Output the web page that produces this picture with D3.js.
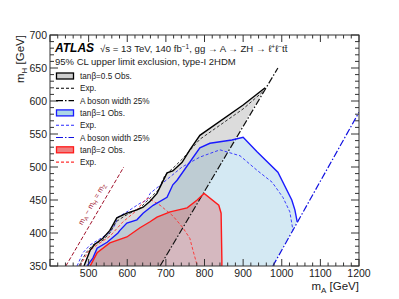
<!DOCTYPE html>
<html>
<head>
<meta charset="utf-8">
<script src="https://cdn.jsdelivr.net/npm/d3@7"></script>
<style>
  body { margin: 0; background: #fff; }
  text { font-family: "Liberation Sans", Arial, sans-serif; fill: #222; }
</style>
</head>
<body>
<div id="chart"></div>
<script>
// mA, mH pairs (GeV)
var obsHalf = [[488,350],[504,374],[516,383],[537,392],[555,404],[573,423],[599,430],[625,435],[641,439],[659,448],[677,460],[703,491],[718,494],[742,507],[762,526],[788,548],[900,594],[957,620]];
var expHalf = [[475,350],[493,370],[511,382],[537,389],[555,400],[571,417],[594,426],[633,438],[654,450],[680,465],[698,488],[718,498],[744,513],[788,542],[900,588],[951,614]];
var obsOne = [[496,350],[511,362],[522,377],[548,386],[576,400],[581,404],[599,415],[625,420],[641,430],[667,442],[703,454],[718,473],[729,480],[788,529],[814,536],[871,541],[900,545],[936,523],[990,492],[1026,450],[1034,435],[1040,417]];
var expOne = [[470,350],[485,370],[504,382],[529,391],[555,401],[568,412],[576,424],[599,432],[633,445],[651,450],[659,460],[680,470],[711,485],[742,500],[788,515],[840,526],[892,517],[936,495],[975,477],[1003,454],[1021,432],[1029,404]];
var obsTwo = [[504,350],[522,370],[555,385],[599,394],[633,408],[659,417],[677,424],[711,432],[755,438],[781,450],[799,460],[837,442],[843,430],[845,359],[845,350]];
var expTwo = [[478,350],[498,371],[522,382],[555,395],[589,417],[620,432],[646,450],[654,453],[685,442],[718,426],[744,408],[762,392],[770,374],[781,351]];
var widthHalf = [[685,350],[990,650]];
var widthOne = [[977,350],[1200,583]];
var mzLine = [[441,350],[591,500]];

var xTicks = [500, 600, 700, 800, 900, 1000, 1100, 1200];
var yTicks = [350, 400, 450, 500, 550, 600, 650, 700];

var width = 399, height = 299;
var margin = {left: 50, right: 40, top: 35, bottom: 33};

var svg = d3.select('#chart').append('svg')
    .attr('width', width)
    .attr('height', height);

var x = d3.scaleLinear().domain([400, 1200]).range([margin.left, width - margin.right]);
var y = d3.scaleLinear().domain([350, 700]).range([height - margin.bottom, margin.top]);

svg.append('clipPath').attr('id', 'plot')
    .append('rect')
    .attr('x', x(400)).attr('y', y(700))
    .attr('width', x(1200) - x(400)).attr('height', y(350) - y(700));

var line = d3.line().x(function (d) { return x(d[0]); }).y(function (d) { return y(d[1]); });

var g = svg.append('g').attr('clip-path', 'url(#plot)');

// filled exclusion areas (contour closed along the width line)
var areaOne = obsOne.concat(widthOne.slice().reverse().filter(function (d) { return d[1] < 417; }));
var areaHalf = obsHalf.concat([widthHalf[0]]);
g.append('path').attr('d', line(areaOne) + 'Z').attr('fill', '#a9d3e8').attr('fill-opacity', 0.5);
g.append('path').attr('d', line(areaHalf) + 'Z').attr('fill', '#8c8c8c').attr('fill-opacity', 0.3);
g.append('path').attr('d', line(obsTwo) + 'Z').attr('fill', '#d84a4a').attr('fill-opacity', 0.3);

function drawLine(data, color, w, dash) {
    g.append('path')
        .attr('d', line(data))
        .attr('fill', 'none')
        .attr('stroke', color)
        .attr('stroke-width', w)
        .attr('stroke-dasharray', dash || null);
}

drawLine(mzLine, '#a0102a', 1, '4,2');
drawLine(widthHalf, '#111', 1.2, '7,2,1.5,2');
drawLine(widthOne, '#1010e0', 1.2, '7,2,1.5,2');
drawLine(expOne, '#2a2aff', 0.9, '3,2');
drawLine(expHalf, '#222', 0.9, '3,2');
drawLine(expTwo, '#ff3030', 0.9, '3,2');
drawLine(obsOne, '#1a1aff', 1.4);
drawLine(obsHalf, '#000', 1.4);
drawLine(obsTwo, '#ff1a1a', 1.4);

// label along the mA = mH + mZ line
var ang = Math.atan2(y(500) - y(350), x(591) - x(441)) * 180 / Math.PI;
var lab = svg.append('text')
    .attr('transform', 'translate(' + (x(532) - 7) + ',' + y(442) + ') rotate(' + ang + ')')
    .attr('text-anchor', 'middle')
    .style('font-size', '7.5px')
    .style('fill', '#a0102a');
lab.append('tspan').text('m');
lab.append('tspan').attr('dy', 2).style('font-size', '5.5px').text('A');
lab.append('tspan').attr('dy', -2).text(' \u2212 m');
lab.append('tspan').attr('dy', 2).style('font-size', '5.5px').text('H');
lab.append('tspan').attr('dy', -2).text(' = m');
lab.append('tspan').attr('dy', 2).style('font-size', '5.5px').text('Z');

// frame and ticks on all sides
var frame = svg.append('g');
frame.append('rect')
    .attr('x', x(400)).attr('y', y(700))
    .attr('width', x(1200) - x(400)).attr('height', y(350) - y(700))
    .attr('fill', 'none').attr('stroke', '#333').attr('stroke-width', 1);

var xMinor = d3.range(400, 1201, 20);
var yMinor = d3.range(350, 701, 10);
xMinor.forEach(function (v) {
    var len = v % 100 === 0 ? 7 : 3.5;
    frame.append('line').attr('x1', x(v)).attr('x2', x(v)).attr('y1', y(350)).attr('y2', y(350) - len).attr('stroke', '#333');
    frame.append('line').attr('x1', x(v)).attr('x2', x(v)).attr('y1', y(700)).attr('y2', y(700) + len).attr('stroke', '#333');
});
yMinor.forEach(function (v) {
    var len = v % 50 === 0 ? 8 : 4;
    frame.append('line').attr('y1', y(v)).attr('y2', y(v)).attr('x1', x(400)).attr('x2', x(400) + len).attr('stroke', '#333');
    frame.append('line').attr('y1', y(v)).attr('y2', y(v)).attr('x1', x(1200)).attr('x2', x(1200) - len).attr('stroke', '#333');
});

frame.selectAll('.xl').data(xTicks).enter().append('text')
    .attr('x', function (d) { return x(d); })
    .attr('y', y(350) + 11)
    .attr('text-anchor', 'middle')
    .style('font-size', '10.5px')
    .text(function (d) { return d; });

frame.selectAll('.yl').data(yTicks).enter().append('text')
    .attr('x', x(400) - 3)
    .attr('y', function (d) { return y(d) + 4; })
    .attr('text-anchor', 'end')
    .style('font-size', '10.5px')
    .text(function (d) { return d; });

var xt = svg.append('text').attr('x', x(1200)).attr('y', 290).attr('text-anchor', 'end').style('font-size', '11.5px');
xt.append('tspan').text('m');
xt.append('tspan').attr('dy', 3).style('font-size', '8px').text('A');
xt.append('tspan').attr('dy', -3).text(' [GeV]');

var yt = svg.append('text').attr('transform', 'translate(24,' + y(700) + ') rotate(-90)').attr('text-anchor', 'end').style('font-size', '11.5px');
yt.append('tspan').text('m');
yt.append('tspan').attr('dy', 3).style('font-size', '8px').text('H');
yt.append('tspan').attr('dy', -3).text(' [GeV]');

// header
svg.append('text').attr('x', 55).attr('y', 52)
    .style('font-size', '12px').style('font-weight', 'bold').style('font-style', 'italic')
    .style('fill', '#000')
    .text('ATLAS');
var hdr = svg.append('text').attr('x', 100).attr('y', 52).style('font-size', '9.6px');
hdr.append('tspan').text('\u221As = 13 TeV, 140 fb');
hdr.append('tspan').attr('dy', -3).style('font-size', '6.5px').text('\u22121');
hdr.append('tspan').attr('dy', 3).text(', gg \u2192 A \u2192 ZH \u2192 \u2113');
hdr.append('tspan').attr('dy', -3).style('font-size', '6.5px').text('+');
hdr.append('tspan').attr('dy', 3).text('\u2113');
hdr.append('tspan').attr('dy', -3).style('font-size', '6.5px').text('\u2212');
hdr.append('tspan').attr('dy', 3).text('tt\u0304');
svg.append('text').attr('x', 55).attr('y', 65).style('font-size', '9.5px')
    .text('95% CL upper limit exclusion, type-I 2HDM');

// legend
var legendItems = [
    {label: 'tan\u03b2=0.5 Obs.', type: 'box', fill: '#cfcfcf', stroke: '#000'},
    {label: 'Exp.', type: 'line', stroke: '#000', dash: '3,2'},
    {label: 'A boson width 25%', type: 'line', stroke: '#000', dash: '7,2,1.5,2'},
    {label: 'tan\u03b2=1 Obs.', type: 'box', fill: '#add8e6', stroke: '#1a1aff'},
    {label: 'Exp.', type: 'line', stroke: '#2a2aff', dash: '3,2'},
    {label: 'A boson width 25%', type: 'line', stroke: '#1010e0', dash: '7,2,1.5,2'},
    {label: 'tan\u03b2=2 Obs.', type: 'box', fill: '#ef8080', stroke: '#ff1a1a'},
    {label: 'Exp.', type: 'line', stroke: '#ff3030', dash: '3,2'}
];

var legend = svg.append('g');
var keys = legend.selectAll('.key')
    .data(legendItems)
    .enter().append('g')
    .attr('class', 'key')
    .attr('transform', function (d, i) { return 'translate(56,' + (76 + i * 12.3) + ')'; });

keys.filter(function (d) { return d.type === 'box'; }).append('rect')
    .attr('x', 0.5).attr('y', -3).attr('width', 17).attr('height', 6)
    .attr('fill', function (d) { return d.fill; })
    .attr('stroke', function (d) { return d.stroke; })
    .attr('stroke-width', 1.3);

keys.filter(function (d) { return d.type === 'line'; }).append('line')
    .attr('x1', 0).attr('x2', 18).attr('y1', 0).attr('y2', 0)
    .attr('stroke', function (d) { return d.stroke; })
    .attr('stroke-width', 1.1)
    .attr('stroke-dasharray', function (d) { return d.dash; });

keys.append('text')
    .attr('x', 24).attr('y', 3)
    .style('font-size', '8.2px')
    .text(function (d) { return d.label; });
</script>
</body>
</html>
